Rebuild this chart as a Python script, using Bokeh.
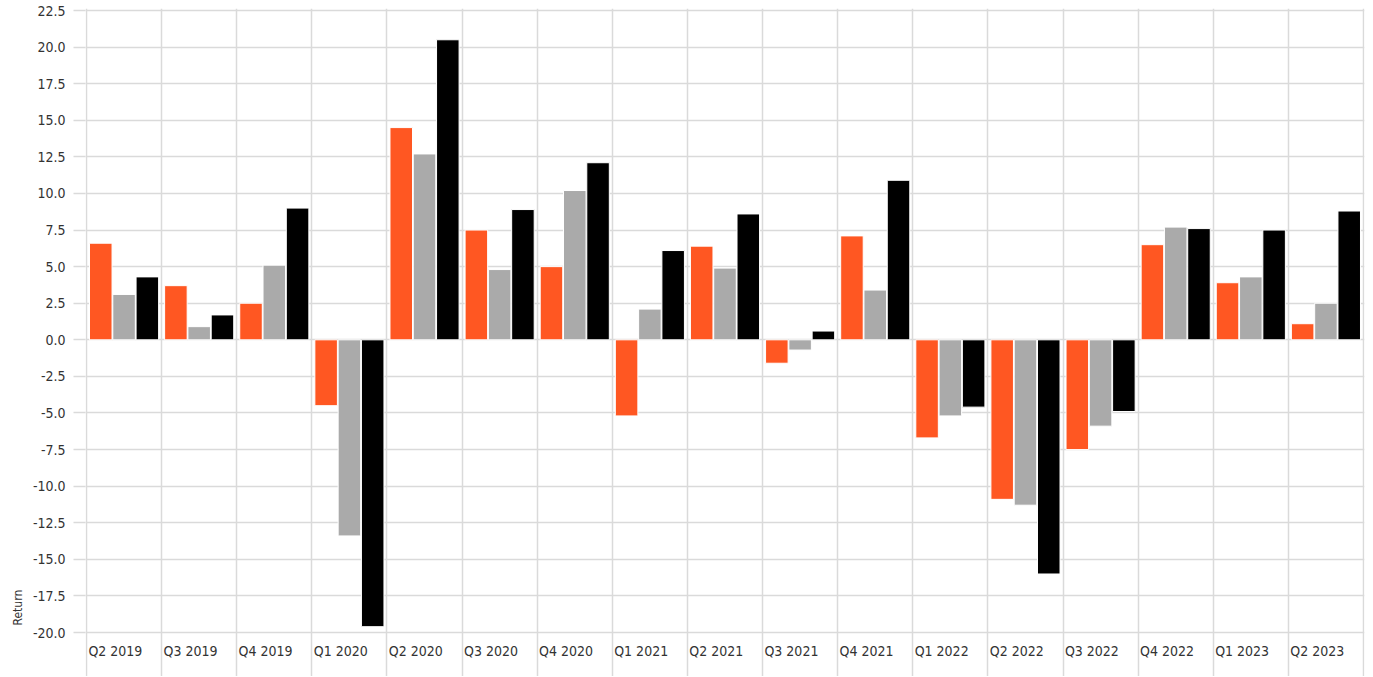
import numpy as np
from bokeh.plotting import figure
from bokeh.models import Range1d, FixedTicker, Grid, Title, NumeralTickFormatter, ColumnDataSource
from bokeh.core.properties import value
from bokeh.embed import file_html
from bokeh.resources import INLINE

quarters = ["Q2 2019", "Q3 2019", "Q4 2019", "Q1 2020", "Q2 2020", "Q3 2020", "Q4 2020",
            "Q1 2021", "Q2 2021", "Q3 2021", "Q4 2021", "Q1 2022", "Q2 2022", "Q3 2022",
            "Q4 2022", "Q1 2023", "Q2 2023"]
series_orange = [6.6, 3.7, 2.5, -4.5, 14.5, 7.5, 5.0, -5.2, 6.4, -1.6, 7.1, -6.7, -10.9, -7.5, 6.5, 3.9, 1.1]
series_gray = [3.1, 0.9, 5.1, -13.4, 12.7, 4.8, 10.2, 2.1, 4.9, -0.7, 3.4, -5.2, -11.3, -5.9, 7.7, 4.3, 2.5]
series_black = [4.3, 1.7, 9.0, -19.6, 20.5, 8.9, 12.1, 6.1, 8.6, 0.6, 10.9, -4.6, -16.0, -4.9, 7.6, 7.5, 8.8]
y_ticks = [-20.0, -17.5, -15.0, -12.5, -10.0, -7.5, -5.0, -2.5, 0.0, 2.5, 5.0, 7.5,
           10.0, 12.5, 15.0, 17.5, 20.0, 22.5]

FONT = "DejaVu Sans Condensed"
TXT = "#333333"
GRID = "#dadada"
n = len(quarters)
idx = np.arange(n)

p = figure(width=1366, height=676, output_backend="svg", toolbar_location=None,
           x_range=Range1d(-0.0133, 17.0133), y_range=Range1d(-23.004, 22.637),
           x_axis_location=None, min_border_left=85, min_border_right=2,
           min_border_top=8, min_border_bottom=0)
p.outline_line_color = None
p.xgrid.visible = False
p.ygrid.ticker = FixedTicker(ticks=y_ticks)
p.ygrid.grid_line_color = GRID
p.ygrid.grid_line_width = 1.5
p.add_layout(Grid(dimension=0, ticker=FixedTicker(ticks=list(range(n + 1))),
                  grid_line_color=GRID, grid_line_width=1.5), "center")

ax = p.yaxis[0]
ax.ticker = FixedTicker(ticks=y_ticks)
ax.formatter = NumeralTickFormatter(format="0.0")
ax.axis_line_color = None
ax.major_tick_out = 12
ax.major_tick_in = 0
ax.major_tick_line_color = GRID
ax.major_tick_line_width = 1.5
ax.minor_tick_line_color = None
ax.major_label_standoff = 8
ax.major_label_text_font = FONT
ax.major_label_text_font_size = "14px"
ax.major_label_text_color = TXT

p.add_layout(Title(text="Return", align="left", offset=51, text_font=FONT,
                   text_font_size="12px", text_font_style="normal", text_color=TXT), "left")

colors = ["#ff5722", "#aaaaaa", "#000000"]
offsets = [0.19, 0.50, 0.81]
for vals, col, off in zip([series_orange, series_gray, series_black], colors, offsets):
    src = ColumnDataSource(dict(x=idx + off, top=vals))
    p.vbar(x="x", top="top", bottom=0, width=0.3, source=src,
           fill_color=col, line_color="white", line_width=1)

lab = ColumnDataSource(dict(x=idx + 0.025, y=np.full(n, -21.23), text=quarters))
p.text(x="x", y="y", text="text", source=lab, text_font=value(FONT), text_font_size="14px",
       text_color=TXT, text_align="left", text_baseline="middle")

open("out.html", "w").write(file_html(p, INLINE))
